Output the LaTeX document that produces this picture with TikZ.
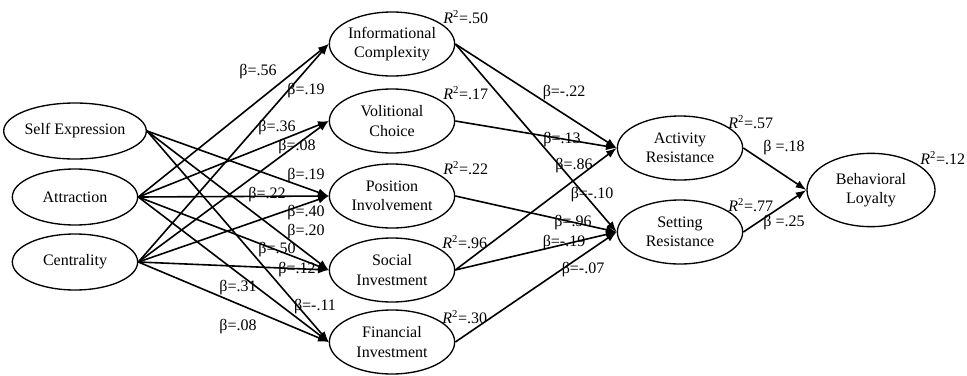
\documentclass[tikz,border=0pt]{standalone}
\usepackage{fontspec}
\setmainfont{Liberation Serif}
\usepackage{tikz}
\usetikzlibrary{arrows.meta,shapes.geometric}

\tikzset{
  construct/.style={ellipse,draw,line width=1pt,inner sep=0pt,align=center,
    minimum width=94pt,minimum height=48pt},
  effect/.style={line width=1.2pt,-{Latex[length=8pt,width=6pt]}},
  coef/.style={inner sep=0pt}
}

\begin{document}
\begin{tikzpicture}[x=0.75pt,y=-0.75pt,font=\fontsize{12}{14.5}\selectfont]
\useasboundingbox (0,0) rectangle (967,375);

% antecedents
\node[construct,minimum height=42pt] (self) at (75,131) {Self Expression};
\node[construct,minimum height=42pt] (attr) at (75,197) {Attraction};
\node[construct,minimum height=42pt] (cent) at (75,262) {Centrality};

% involvement constructs
\node[construct] (info) at (392,44) {Informational\\Complexity};
\node[construct] (vol) at (392,121) {Volitional\\Choice};
\node[construct] (pos) at (392,196) {Position\\Involvement};
\node[construct] (soc) at (392,270) {Social\\Investment};
\node[construct] (fin) at (392,342) {Financial\\Investment};

% resistance and loyalty
\node[construct] (act) at (680,148) {Activity\\Resistance};
\node[construct] (set) at (680,232) {Setting\\Resistance};
\node[construct,minimum width=96pt,minimum height=55pt] (loy) at (871,190) {Behavioral\\Loyalty};

\foreach \s/\t in {self/pos,self/soc,self/fin,
    attr/info,attr/vol,attr/pos,attr/soc,attr/fin,
    cent/info,cent/vol,cent/pos,cent/soc,cent/fin,
    info/act,info/set,vol/act,pos/set,soc/act,soc/set,fin/set,
    act/loy,set/loy}
  \draw[effect] (\s.east) -- (\t.west);

% path coefficients
\foreach \x/\y/\v [count=\i] in {258/72/.56,306/91/.19,277/128/.36,297/147/.08,
    306/176/.19,267/195/.22,306/213/.40,306/232/.20,277/250/.50,297/270/.12,
    238/288/.31,315/307/-.11,238/327/.08,
    564/93/-.22,562/140/.13,574/166/.86,592/195/-.10,573/223/.96,
    564/243/-.19,583/270/-.07}
  \node[coef] (b\i) at (\x,\y) {β=\v};
\node[coef] (b21) at (784,148) {β =.18};
\node[coef] (b22) at (784,223) {β =.25};

% explained variance
\foreach \x/\y/\v [count=\i] in {443/17/.50,443/93/.17,443/168/.22,442/242/.96,
    442/317/.30,728/122/.57,728/205/.77,920/158/.12}
  \node[coef,anchor=west] (r\i) at (\x,\y) {\textit{R}\textsuperscript{2}=\v};
\end{tikzpicture}
\end{document}
